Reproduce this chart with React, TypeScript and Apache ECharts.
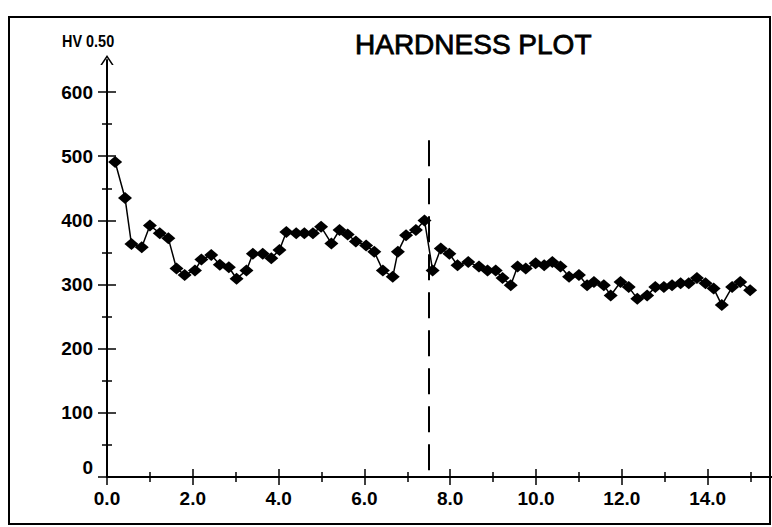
import React, { useEffect, useRef } from "react";
import * as echarts from "echarts";

// Distance along the specimen and Vickers hardness HV 0.50
const distance = [
  0.19, 0.42, 0.57, 0.81, 1.0, 1.23, 1.43, 1.62, 1.81, 2.05, 2.2, 2.43, 2.63, 2.84, 3.02, 3.25,
  3.4, 3.63, 3.83, 4.02, 4.18, 4.41, 4.6, 4.8, 4.99, 5.23, 5.42, 5.61, 5.8, 6.04, 6.23, 6.43,
  6.66, 6.78, 6.97, 7.2, 7.4, 7.59, 7.78, 7.98, 8.17, 8.42, 8.67, 8.87, 9.06, 9.22, 9.41, 9.57,
  9.76, 9.99, 10.19, 10.38, 10.57, 10.77, 11.0, 11.19, 11.35, 11.58, 11.74, 11.97, 12.16, 12.36,
  12.59, 12.78, 12.98, 13.17, 13.37, 13.56, 13.75, 13.95, 14.14, 14.33, 14.57, 14.76, 14.99,
];
const hardness = [
  491, 435, 363, 358, 392, 380, 372, 325, 315, 322, 339, 346, 331, 327, 309, 322,
  348, 348, 341, 354, 382, 380, 380, 380, 390, 364, 385, 378, 367, 361, 351, 322,
  312, 351, 377, 385, 400, 322, 356, 348, 330, 335, 328, 322, 322, 310, 299, 328,
  325, 333, 330, 335, 328, 312, 315, 299, 304, 299, 283, 304, 296, 278,
  283, 296, 296, 299, 302, 302, 310, 302, 294, 268, 296, 304, 291,
];

const dividerX = 7.5;
const dividerTop = 525;

const yTickLabels = [0, 100, 200, 300, 400, 500, 600];
const yMinorTicks = [50, 150, 250, 350, 450, 550];
const xTickLabels = [0, 2, 4, 6, 8, 10, 12, 14];
const xMinorTicks = [1, 3, 5, 7, 9, 11, 13, 15];

const FONT = "Liberation Sans";

function tickAxis(min: number, max: number, values: number[], length: number, inside: boolean, position: string) {
  return {
    type: "value" as const,
    min,
    max,
    position,
    offset: 0,
    axisLine: { show: false, onZero: false },
    axisLabel: { show: false },
    splitLine: { show: false },
    axisTick: {
      show: true,
      inside,
      customValues: values,
      length,
      lineStyle: { color: "#000", width: 1.5 },
    },
  };
}

export default function App() {
  const ref = useRef<HTMLDivElement>(null);
  useEffect(() => {
    document.body.style.margin = "0";
    const chart = echarts.init(ref.current!, null, { renderer: "svg" });
    const data = distance.map((d, i) => [d, hardness[i]]);
    const labelStyle = { color: "#000", fontFamily: FONT, fontSize: 19, fontWeight: "bold" as const };
    chart.setOption({
      animation: false,
      backgroundColor: "#fff",
      title: [
        {
          text: "HARDNESS PLOT",
          left: 355,
          top: 30,
          padding: 0,
          textStyle: {
            color: "#000",
            fontFamily: FONT,
            fontSize: 28,
            fontWeight: "normal",
            textBorderColor: "#000",
            textBorderWidth: 0.8,
          },
        },
      ],
      graphic: [
        {
          type: "rect",
          shape: { x: 9, y: 17, width: 761, height: 507 },
          style: { fill: "none", stroke: "#000", lineWidth: 2 },
          silent: true,
        },
        {
          type: "text",
          x: 62,
          y: 33,
          scaleX: 0.85,
          style: {
            text: "HV 0.50",
            fill: "#000",
            fontFamily: FONT,
            fontSize: 17,
            fontWeight: "bold",
          },
          silent: true,
        },
      ],
      grid: { left: 107, top: 60, width: 665, height: 417, containLabel: false },
      xAxis: [
        {
          type: "value",
          min: 0,
          max: 15.5,
          axisLine: { show: true, onZero: false, lineStyle: { color: "#000", width: 2 } },
          axisTick: { show: false },
          axisLabel: {
            ...labelStyle,
            customValues: xTickLabels,
            margin: 12,
            formatter: (v: number) => v.toFixed(1),
          },
          splitLine: { show: false },
        },
        tickAxis(0, 15.5, xTickLabels, 8, false, "bottom"),
        tickAxis(0, 15.5, xTickLabels, 8, true, "bottom"),
        tickAxis(0, 15.5, xMinorTicks, 5, false, "bottom"),
        tickAxis(0, 15.5, xMinorTicks, 5, true, "bottom"),
      ],
      yAxis: [
        {
          type: "value",
          min: 0,
          max: 650,
          axisLine: {
            show: true,
            onZero: false,
            lineStyle: { color: "#000", width: 2 },
            symbol: ["none", "path://M0,9 L6,0 L12,9 L10.4,9 L6,2.4 L1.6,9 Z"],
            symbolSize: [14, 10],
          },
          axisTick: { show: false },
          axisLabel: {
            ...labelStyle,
            customValues: yTickLabels,
            margin: 14,
            verticalAlignMinLabel: "bottom",
          },
          splitLine: { show: false },
        },
        tickAxis(0, 650, yTickLabels, 9, false, "left"),
        tickAxis(0, 650, yTickLabels, 9, true, "left"),
        tickAxis(0, 650, yMinorTicks, 5, false, "left"),
        tickAxis(0, 650, yMinorTicks, 5, true, "left"),
      ],
      series: [
        {
          type: "line",
          xAxisIndex: 0,
          yAxisIndex: 0,
          data,
          symbol: "diamond",
          symbolSize: [14, 12],
          showAllSymbol: true,
          itemStyle: { color: "#000" },
          lineStyle: { color: "#000", width: 1.5 },
          z: 3,
          markLine: {
            silent: true,
            symbol: ["none", "none"],
            label: { show: false },
            lineStyle: { color: "#000", width: 2, type: [26, 12] },
            data: [[{ coord: [dividerX, dividerTop] }, { coord: [dividerX, 0] }]],
          },
        },
      ],
    });
    return () => chart.dispose();
  }, []);
  return <div ref={ref} style={{ width: 772, height: 527 }} />;
}
